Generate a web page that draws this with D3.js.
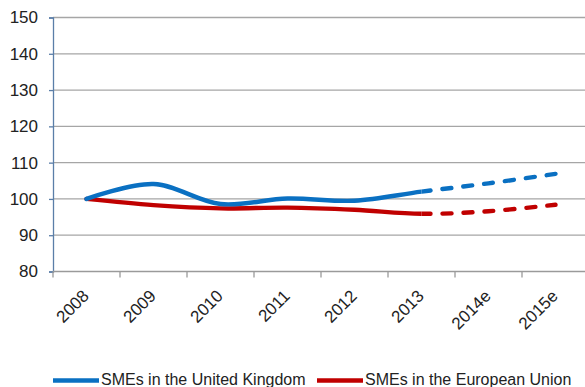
<!DOCTYPE html>
<html>
<head>
<meta charset="utf-8">
<script src="https://cdn.jsdelivr.net/npm/d3@7"></script>
<style>
  html, body { margin: 0; padding: 0; background: #fff; }
  svg { display: block; font-family: Arial, "Liberation Sans", sans-serif; }
</style>
</head>
<body>
<svg id="chart" width="585" height="387"></svg>
<script>
// Index of SME counts, 2008 = 100
const years = ["2008", "2009", "2010", "2011", "2012", "2013", "2014e", "2015e"];
const ukValues = [100, 104.1, 98.6, 100.1, 99.5, 102.0, 104.3, 106.9];
const euValues = [100, 98.3, 97.4, 97.6, 97.0, 95.9, 96.6, 98.4];
const yTicks = [80, 90, 100, 110, 120, 130, 140, 150];
const lastActual = "2013"; // later years are estimates

const series = [
  { name: "SMEs in the United Kingdom", values: ukValues, color: "#0a70c2" },
  { name: "SMEs in the European Union", values: euValues, color: "#c00000" }
];

const svg = d3.select("#chart");
const plotLeft = 53, plotRight = 589, plotTop = 17.5, plotBottom = 271.5;

const x = d3.scaleBand().domain(years).range([plotLeft, plotRight]);
const y = d3.scaleLinear().domain([80, 150]).range([plotBottom, plotTop]);
const cx = d => x(d) + x.bandwidth() / 2;

// horizontal gridlines
svg.append("g").selectAll("line")
  .data(yTicks.filter(t => t > 80))
  .join("line")
  .attr("x1", plotLeft).attr("x2", plotRight)
  .attr("y1", d => y(d)).attr("y2", d => y(d))
  .attr("stroke", "#a6a6a6").attr("stroke-width", 1.3);

// y axis
const yAxis = svg.append("g")
  .attr("transform", `translate(${plotLeft},0)`)
  .call(d3.axisLeft(y).tickValues(yTicks).tickSize(4).tickPadding(11));
yAxis.select(".domain").attr("stroke", "#5a7ea8").attr("stroke-width", 1.3);
yAxis.selectAll(".tick line").attr("stroke", "#5a7ea8").attr("stroke-width", 1.3);
yAxis.selectAll(".tick text").attr("font-size", 17).attr("fill", "#222")
  .attr("font-family", "Arial, 'Liberation Sans', sans-serif");

// x axis with ticks between categories
const xAxisG = svg.append("g").attr("transform", `translate(0,${plotBottom})`);
xAxisG.append("line").attr("x1", plotLeft).attr("x2", plotRight)
  .attr("stroke", "#9a9a9a").attr("stroke-width", 1.3);
xAxisG.selectAll("line.tk")
  .data(years.map(d => x(d)).concat([plotRight]))
  .join("line").attr("class", "tk")
  .attr("x1", d => d).attr("x2", d => d)
  .attr("y1", 0).attr("y2", 6)
  .attr("stroke", "#9a9a9a").attr("stroke-width", 1.3);
xAxisG.selectAll("text")
  .data(years)
  .join("text")
  .attr("transform", d => `translate(${cx(d) + 3.5},${25.5}) rotate(-45)`)
  .attr("text-anchor", "end")
  .attr("font-size", 17).attr("fill", "#222")
  .text(d => d);

// smoothed lines: solid for actuals, dashed for estimates
const line = d3.line()
  .x((d, i) => cx(years[i]))
  .y(d => y(d))
  .curve(d3.curveCatmullRom.alpha(0.5));

const splitX = cx(lastActual);
const defs = svg.append("defs");
defs.append("clipPath").attr("id", "clip-actual")
  .append("rect").attr("x", 0).attr("y", 0).attr("width", splitX).attr("height", 387);
defs.append("clipPath").attr("id", "clip-estimate")
  .append("rect").attr("x", splitX).attr("y", 0).attr("width", 585 - splitX).attr("height", 387);

// draw EU first so UK sits on top where they meet at 2008
[series[1], series[0]].forEach(s => {
  const d = line(s.values);
  svg.append("path")
    .attr("d", d)
    .attr("fill", "none")
    .attr("stroke", s.color)
    .attr("stroke-width", 4.4)
    .attr("stroke-linecap", "round")
    .attr("clip-path", "url(#clip-actual)");
  const dashed = svg.append("path")
    .attr("d", d)
    .attr("fill", "none")
    .attr("stroke", s.color)
    .attr("stroke-width", 4.4)
    .attr("stroke-linecap", "round")
    .attr("stroke-dasharray", "9,12")
    .attr("clip-path", "url(#clip-estimate)");
  // start the dash pattern at the last actual year
  const node = dashed.node();
  const total = node.getTotalLength();
  let lo = 0, hi = total;
  for (let k = 0; k < 40; k++) {
    const mid = (lo + hi) / 2;
    if (node.getPointAtLength(mid).x < splitX) lo = mid; else hi = mid;
  }
  dashed.attr("stroke-dashoffset", -lo);
});

// legend
const legend = svg.append("g");
const legendItems = [
  { s: series[0], x0: 53 },
  { s: series[1], x0: 317 }
];
legendItems.forEach(({ s, x0 }) => {
  legend.append("line")
    .attr("x1", x0).attr("x2", x0 + 46)
    .attr("y1", 380.5).attr("y2", 380.5)
    .attr("stroke", s.color).attr("stroke-width", 4.4);
  legend.append("text")
    .attr("x", x0 + 48).attr("y", 385)
    .attr("font-size", 16).attr("fill", "#222")
    .text(s.name);
});
</script>
</body>
</html>
